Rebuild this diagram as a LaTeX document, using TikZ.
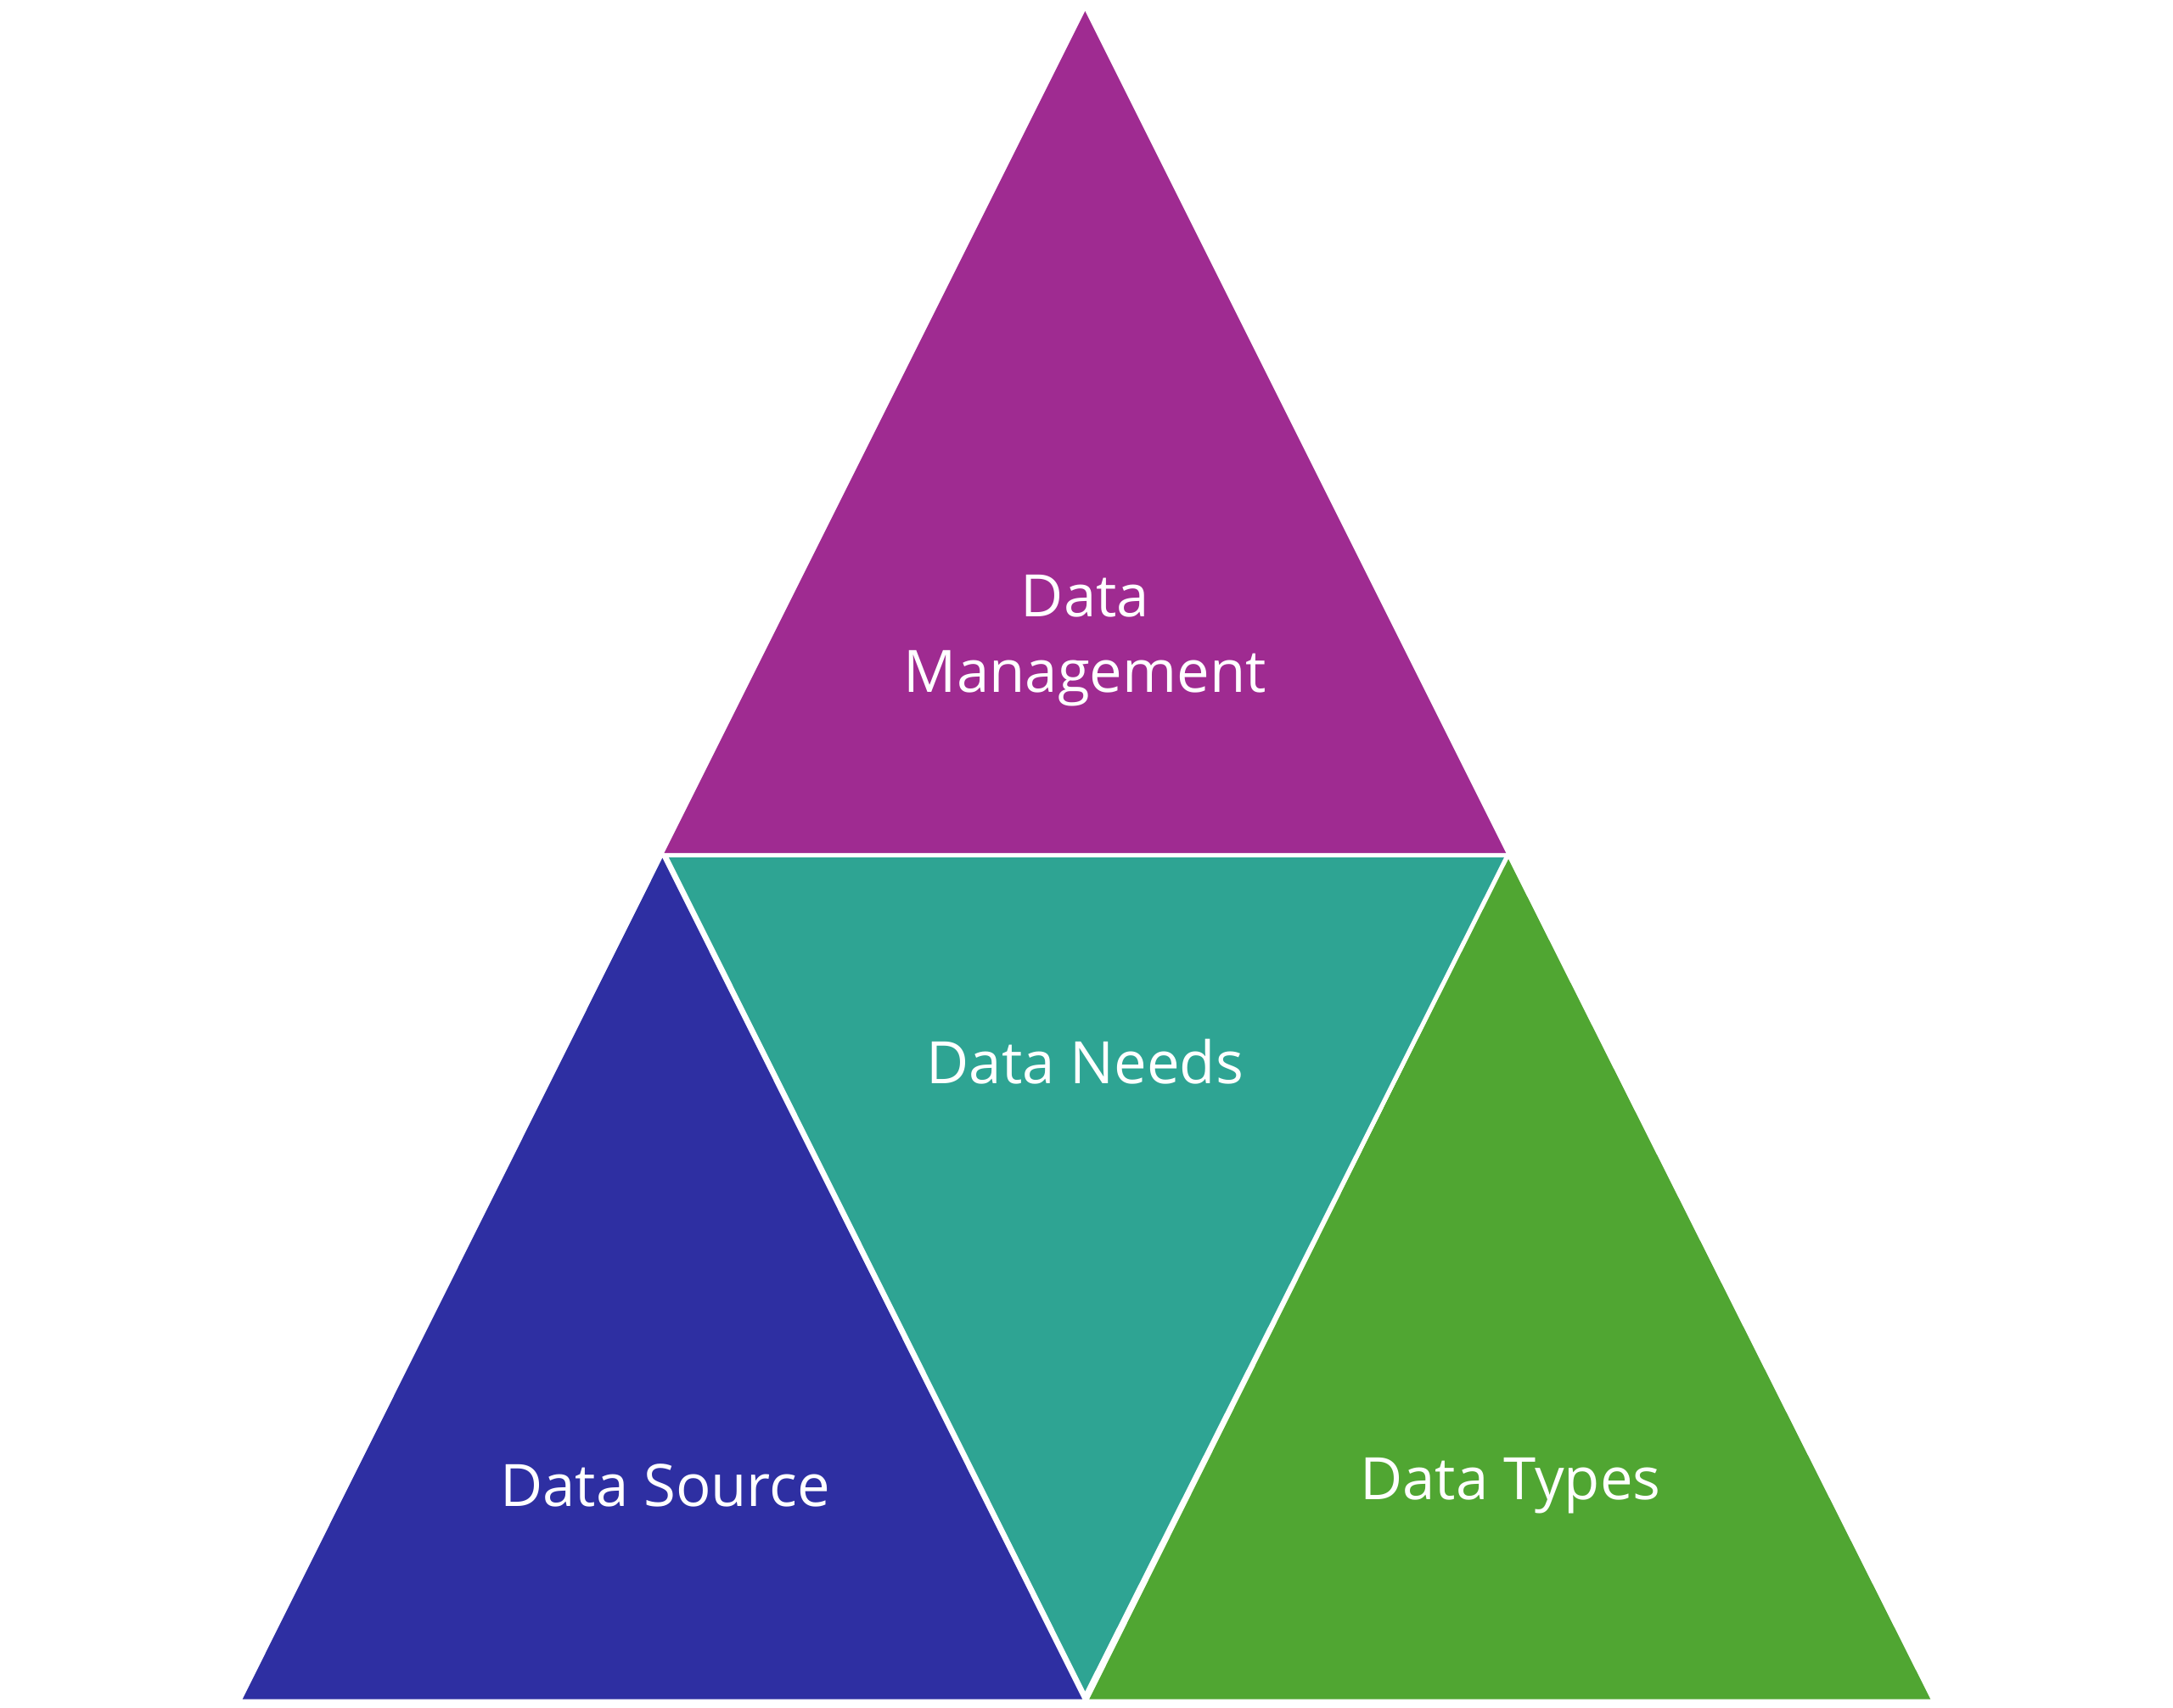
\documentclass[tikz,border=0pt]{standalone}
\usepackage{fontspec}
\setmainfont{Open Sans}
\begin{document}
\begin{tikzpicture}[x=0.01cm,y=-0.01cm,
 lab/.style={text=white,font=\fontsize{12}{15.5}\selectfont,align=center}]
\useasboundingbox (0,0) rectangle (1568,1232);
\fill[fill={rgb,255:red,159;green,43;blue,145}] (783,8) -- (1087,616) -- (479,616) -- cycle;
\fill[fill={rgb,255:red,46;green,47;blue,162}] (478,619) -- (781,1226) -- (175,1226) -- cycle;
\fill[fill={rgb,255:red,80;green,166;blue,50}] (1088,619) -- (1393,1226) -- (786,1226) -- cycle;
\draw[white,line width=0.9pt,fill={rgb,255:red,46;green,164;blue,147}] (480,617) -- (1088,617) -- (783,1224) -- cycle;
\node[lab] (mgmt) at (783,462) {Data\\Management};
\node[lab] (needs) at (783,766) {Data Needs};
\node[lab] (src) at (480,1072) {Data Source};
\node[lab] (types) at (1090,1072) {Data Types};
\end{tikzpicture}
\end{document}
